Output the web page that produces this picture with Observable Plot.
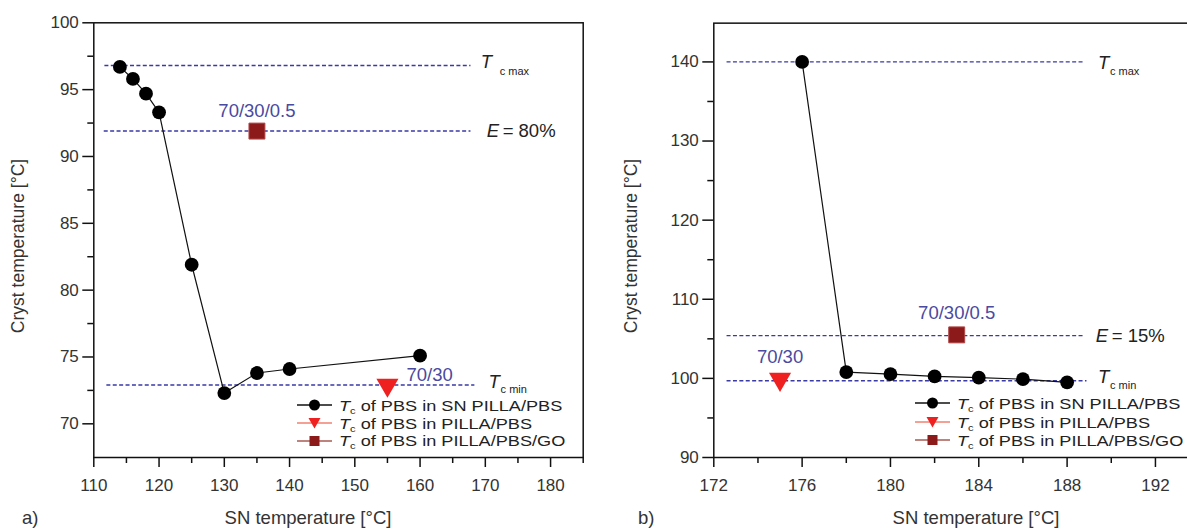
<!DOCTYPE html>
<html>
<head>
<meta charset="utf-8">
<script src="https://cdn.jsdelivr.net/npm/d3@7"></script>
<script src="https://cdn.jsdelivr.net/npm/@observablehq/plot@0.6"></script>
<style>
  html, body { margin: 0; padding: 0; background: #fff; overflow: hidden; }
  body { font-family: "Liberation Sans", Arial, sans-serif; color: #333; }
  #root { position: relative; width: 1187px; height: 530px; overflow: hidden; }
  .panel { position: absolute; top: 0; }
  .panel svg { max-width: none !important; }
  .ylab { position: absolute; transform: translate(-50%, -50%) rotate(-90deg); white-space: nowrap; font-size: 17.5px; color: #333; }
  .xlab { position: absolute; transform: translate(-50%, -50%); white-space: nowrap; font-size: 18.5px; color: #333; }
  .tag { position: absolute; transform: translateY(-50%); font-size: 18.5px; color: #333; }
  .leg { position: absolute; display: flex; align-items: center; height: 18px; white-space: nowrap; font-size: 15.5px; line-height: 17px; color: #222; }
  .leg svg { flex: none; }
  .leg span { margin-left: 7px; display: inline-block; transform: scaleX(1.17); transform-origin: 0 50%; }
  .leg sub { font-size: 9.5px; vertical-align: -3px; line-height: 0; }
</style>
</head>
<body>
<div id="root">
  <div id="left" class="panel" style="left:0px;width:600px"></div>
  <div id="right" class="panel" style="left:600px;width:620px"></div>
</div>
<script>
// ---------------- data: panel a ----------------
const aSN = [114, 116, 118, 120, 125, 130, 135, 140, 160];
const aTc = [96.7, 95.8, 94.7, 93.3, 81.9, 72.3, 73.8, 74.1, 75.1];
const aPillaSN = [155];
const aPillaTc = [72.9];
const aGoSN = [135];
const aGoTc = [91.9];
const aRefTc = [96.8, 91.9, 72.9];          // Tc max, E, Tc min
const aRefFrom = [111.7, 111.6, 112.0];
const aRefTo = [167.8, 167.8, 168.4];
const aRefLabelSN = [169.3, 170.2, 170.5];
const aEffText = "= 80%";
const aXTicks = [110, 120, 130, 140, 150, 160, 170, 180];
const aXMinor = [115, 125, 135, 145, 155, 165, 175, 185];
const aYTicks = [70, 75, 80, 85, 90, 95, 100];
const aYMinor = [72.5, 77.5, 82.5, 87.5, 92.5, 97.5];

// ---------------- data: panel b ----------------
const bSN = [176, 178, 180, 182, 184, 186, 188];
const bTc = [140.0, 100.8, 100.55, 100.25, 100.1, 99.9, 99.5];
const bPillaSN = [175];
const bPillaTc = [99.9];
const bGoSN = [183];
const bGoTc = [105.5];
const bRefTc = [140.0, 105.4, 99.7];
const bRefFrom = [172.6, 172.6, 172.6];
const bRefTo = [188.8, 188.8, 188.9];
const bRefLabelSN = [189.4, 189.3, 189.4];
const bEffText = "= 15%";
const bXTicks = [172, 176, 180, 184, 188, 192];
const bXMinor = [174, 178, 182, 186, 190, 194];
const bYTicks = [90, 100, 110, 120, 130, 140];
const bYMinor = [95, 105, 115, 125, 135];

const legendNames = ["of PBS in SN PILLA/PBS", "of PBS in PILLA/PBS", "of PBS in PILLA/PBS/GO"];
const blendLabel = "70/30";
const goLabel = "70/30/0.5";

const BLUE_LINE = "#3a3aa6";
const BLUE_TEXT = "#4a4aa0";
const RED = "#ee2020";
const DARKRED = "#8c1a1a";

function panel(cfg) {
  const series = cfg.sn.map((x, i) => ({x, y: cfg.tc[i]}));
  const pilla = cfg.pillaSN.map((x, i) => ({x, y: cfg.pillaTc[i]}));
  const go = cfg.goSN.map((x, i) => ({x, y: cfg.goTc[i]}));
  const refs = cfg.refTc.map((y, i) => ({y, x1: cfg.refFrom[i], x2: cfg.refTo[i], lx: cfg.refLabelSN[i]}));
  const tMax = [refs[0]], eff = [refs[1]], tMin = [refs[2]];
  return Plot.plot({
    width: cfg.width,
    height: 530,
    marginLeft: cfg.ml,
    marginRight: cfg.mr,
    marginTop: cfg.mt,
    marginBottom: 73,
    style: {fontFamily: "'Liberation Sans', Arial, sans-serif", fontSize: "17px", color: "#333", background: "transparent", overflow: "visible", maxWidth: "none"},
    x: {domain: cfg.xDomain, label: null},
    y: {domain: cfg.yDomain, label: null},
    marks: [
      Plot.ruleY(refs, {y: "y", x1: "x1", x2: "x2", stroke: BLUE_LINE, strokeWidth: 1.4, strokeDasharray: "4,2.4"}),
      Plot.line(series, {x: "x", y: "y", stroke: "#111", strokeWidth: 1.2}),
      Plot.dot(series, {x: "x", y: "y", r: 6.9, fill: "#000"}),
      Plot.dot(pilla, {x: "x", y: "y", symbol: "triangle", rotate: 180, r: 8.2, fill: RED}),
      Plot.dot(go, {x: "x", y: "y", symbol: "square", r: 9, fill: DARKRED, stroke: "#b04848", strokeWidth: 1}),
      Plot.text(go, {x: "x", y: "y", text: () => goLabel, dy: cfg.goDy, fill: BLUE_TEXT, fontSize: 18.5, textAnchor: "middle"}),
      Plot.text(pilla, {x: "x", y: "y", text: () => blendLabel, dx: cfg.pillaDx, dy: cfg.pillaDy, fill: BLUE_TEXT, fontSize: 18.5, textAnchor: cfg.pillaAnchor}),
      // Tc max
      Plot.text(tMax, {x: "lx", y: "y", text: () => "T", fontStyle: "italic", fontSize: 18.5, textAnchor: "start", dy: cfg.tMaxDy, fill: "#222"}),
      Plot.text(tMax, {x: "lx", y: "y", text: () => "c max", fontSize: 11, textAnchor: "start", dx: cfg.tMaxSubDx, dy: cfg.tMaxSubDy, fill: "#222"}),
      // E
      Plot.text(eff, {x: "lx", y: "y", text: () => "E", fontStyle: "italic", fontSize: 18.5, textAnchor: "start", fill: "#222"}),
      Plot.text(eff, {x: "lx", y: "y", text: () => cfg.effText, fontSize: 18.5, textAnchor: "start", dx: 16, fill: "#222"}),
      // Tc min
      Plot.text(tMin, {x: "lx", y: "y", text: () => "T", fontStyle: "italic", fontSize: 18.5, textAnchor: "start", dy: cfg.tMinDy, fill: "#222"}),
      Plot.text(tMin, {x: "lx", y: "y", text: () => "c min", fontSize: 11, textAnchor: "start", dx: cfg.tMinSubDx, dy: cfg.tMinSubDy, fill: "#222"}),
      Plot.axisX(cfg.xTicks, {tickSize: 10, tickPadding: 11, strokeWidth: 1.5, stroke: "#111", fill: "#333", fontSize: 17, label: null}),
      Plot.axisX(cfg.xMinor, {tickSize: 6, strokeWidth: 1.5, stroke: "#111", fill: null, label: null}),
      Plot.axisY(cfg.yTicks, {tickSize: 11, tickPadding: 4, strokeWidth: 1.5, stroke: "#111", fill: "#333", fontSize: 17, label: null}),
      Plot.axisY(cfg.yMinor, {tickSize: 6, strokeWidth: 1.5, stroke: "#111", fill: null, label: null}),
      Plot.frame({stroke: "#111", strokeWidth: 1.5})
    ]
  });
}

document.getElementById("left").appendChild(panel({
  width: 600, ml: 93.3, mr: 17.3, mt: 22.3,
  xDomain: [110, 185], yDomain: [67.48, 100],
  sn: aSN, tc: aTc, pillaSN: aPillaSN, pillaTc: aPillaTc, goSN: aGoSN, goTc: aGoTc,
  refTc: aRefTc, refFrom: aRefFrom, refTo: aRefTo, refLabelSN: aRefLabelSN, effText: aEffText,
  xTicks: aXTicks, xMinor: aXMinor, yTicks: aYTicks, yMinor: aYMinor,
  goDy: -20, pillaDx: 19, pillaDy: -10, pillaAnchor: "start",
  tMaxDy: -3.5, tMaxSubDx: 19, tMaxSubDy: 6, tMinDy: -3, tMinSubDx: 12, tMinSubDy: 4.5
}));

document.getElementById("right").appendChild(panel({
  width: 620, ml: 113.3, mr: 20.9, mt: 22.65,
  xDomain: [172, 194], yDomain: [90, 144.9],
  sn: bSN, tc: bTc, pillaSN: bPillaSN, pillaTc: bPillaTc, goSN: bGoSN, goTc: bGoTc,
  refTc: bRefTc, refFrom: bRefFrom, refTo: bRefTo, refLabelSN: bRefLabelSN, effText: bEffText,
  xTicks: bXTicks, xMinor: bXMinor, yTicks: bYTicks, yMinor: bYMinor,
  goDy: -22, pillaDx: 0, pillaDy: -22, pillaAnchor: "middle",
  tMaxDy: 0.7, tMaxSubDx: 12, tMaxSubDy: 10, tMinDy: -3.3, tMinSubDx: 12, tMinSubDy: 5
}));

// ---------------- HTML annotations (axis titles, panel tags, legends) ----------------
const root = document.getElementById("root");
function addDiv(cls, html, style) {
  const d = document.createElement("div");
  d.className = cls; d.innerHTML = html; d.setAttribute("style", style);
  root.appendChild(d);
  return d;
}
const yTitle = "Cryst temperature [°C]";
const xTitle = "SN temperature [°C]";
addDiv("ylab", yTitle, "left:17.5px;top:246px");
addDiv("ylab", yTitle, "left:631px;top:246px");
addDiv("xlab", xTitle, "left:308px;top:518px");
addDiv("xlab", xTitle, "left:976px;top:518px");
addDiv("tag", "a)", "left:22px;top:518px");
addDiv("tag", "b)", "left:638px;top:518px");

function symbolSvg(kind) {
  const lineCol = kind === "circle" ? "#111" : kind === "triangle" ? "#f08070" : "#a85a50";
  let m = "";
  if (kind === "circle") m = `<circle cx="17.5" cy="9" r="5.5" fill="#000"/>`;
  else if (kind === "triangle") m = `<path d="M11.5,4 L23.5,4 L17.5,14.5 Z" fill="${RED}"/>`;
  else m = `<rect x="12.5" y="4" width="10" height="10" fill="${DARKRED}"/>`;
  return `<svg width="35" height="18"><line x1="0" y1="9" x2="35" y2="9" stroke="${lineCol}" stroke-width="1.5"/>${m}</svg>`;
}
const legendKinds = ["circle", "triangle", "square"];
function legend(left, rows) {
  legendNames.forEach((name, i) => {
    addDiv("leg", `${symbolSvg(legendKinds[i])}<span><i>T</i><sub>c</sub> ${name}</span>`, `left:${left}px;top:${rows[i] - 9}px`);
  });
}
legend(297, [405, 423.3, 440.7]);
legend(914.5, [403.3, 422.3, 440]);
</script>
</body>
</html>
